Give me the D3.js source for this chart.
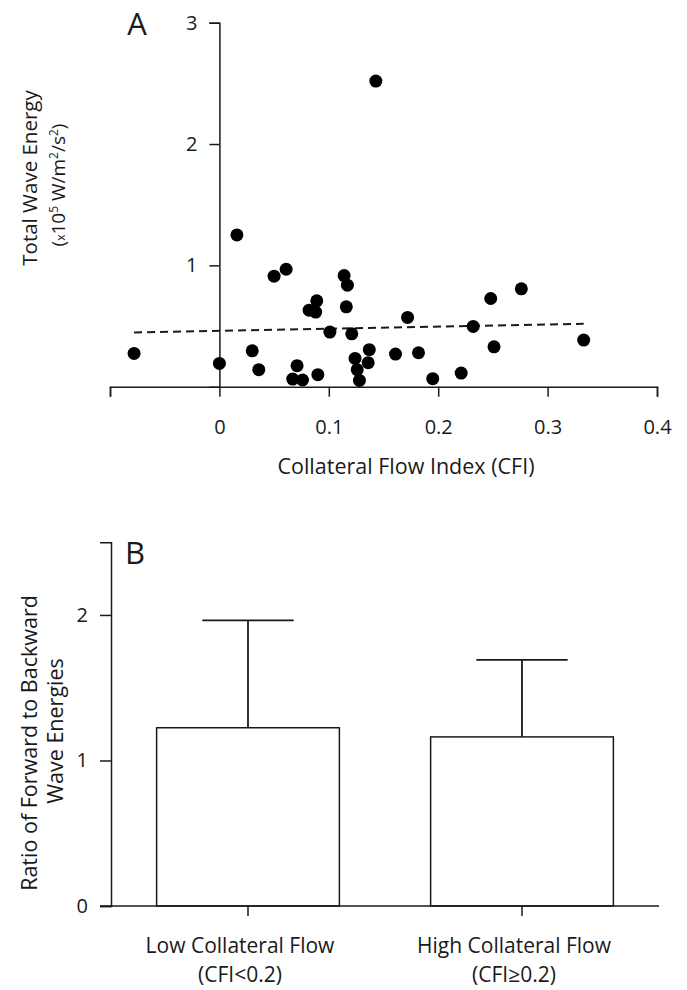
<!DOCTYPE html>
<html>
<head>
<meta charset="utf-8">
<script src="https://cdn.jsdelivr.net/npm/d3@7"></script>
<style>
  html, body { margin: 0; padding: 0; background: #fff; }
  svg { display: block; font-family: "Open Sans", "Noto Sans", sans-serif; }
  text { fill: #1a1a1a; }
</style>
</head>
<body>
<svg id="chart" width="687" height="990"></svg>
<script>
// ---------- Panel A data (scatter) ----------
const cfiValues = [-0.078, 0.000, 0.016, 0.030, 0.036, 0.050, 0.061, 0.071, 0.067, 0.076,
                   0.082, 0.088, 0.089, 0.090, 0.101, 0.114, 0.117, 0.116, 0.121, 0.124,
                   0.126, 0.128, 0.137, 0.136, 0.143, 0.161, 0.172, 0.182, 0.195, 0.221,
                   0.232, 0.248, 0.251, 0.276, 0.333];
const waveEnergy = [0.274, 0.192, 1.251, 0.296, 0.140, 0.911, 0.968, 0.173, 0.063, 0.055,
                    0.631, 0.615, 0.708, 0.099, 0.450, 0.916, 0.837, 0.658, 0.436, 0.233,
                    0.140, 0.052, 0.305, 0.198, 2.519, 0.269, 0.571, 0.280, 0.066, 0.112,
                    0.497, 0.727, 0.329, 0.807, 0.384];
const trendX = [-0.078, 0.333];
const trendY = [0.447, 0.519];
const xTicksA = [-0.1, 0, 0.1, 0.2, 0.3, 0.4];
const xTickLabelsA = ["", "0", "0.1", "0.2", "0.3", "0.4"];
const yTicksA = [1, 2, 3];

// ---------- Panel B data (bars) ----------
const groups = ["Low Collateral Flow|(CFI<0.2)", "High Collateral Flow|(CFI\u22650.2)"];
const ratioMeans = [1.225, 1.162];
const ratioUpper = [1.963, 1.691];
const yTicksB = [0, 1, 2];

const svg = d3.select("#chart");
const ink = "#1a1a1a";
const FONT = "Open Sans";

function styleAxis(g) {
  g.select(".domain").attr("stroke", ink).attr("stroke-width", 1.5);
  g.selectAll(".tick line").attr("stroke", ink).attr("stroke-width", 1.5);
  g.selectAll(".tick text").attr("font-size", 20).attr("font-family", FONT).attr("fill", ink);
}

// ================= Panel A =================
const xA = d3.scaleLinear().domain([-0.1, 0.4]).range([110, 657]);
const yA = d3.scaleLinear().domain([0, 3]).range([386.7, 22.7]);

const gA = svg.append("g");

// x axis
const xAxisA = d3.axisBottom(xA).tickValues(xTicksA)
  .tickFormat((d, i) => xTickLabelsA[i]).tickSizeOuter(0).tickSize(10).tickPadding(23);
const gxA = gA.append("g").attr("transform", `translate(0,${yA(0)})`).call(xAxisA);
styleAxis(gxA);

// y axis
const yAxisA = d3.axisLeft(yA).tickValues(yTicksA).tickFormat(d3.format("d"))
  .tickSizeOuter(0).tickSize(10).tickPadding(12);
const gyA = gA.append("g").attr("transform", `translate(${xA(0)},0)`).call(yAxisA);
styleAxis(gyA);

// trend line
gA.append("path")
  .datum(trendX.map((x, i) => [x, trendY[i]]))
  .attr("fill", "none").attr("stroke", ink).attr("stroke-width", 2)
  .attr("stroke-dasharray", "8,5")
  .attr("d", d3.line().x(d => xA(d[0])).y(d => yA(d[1])));

// dots
gA.selectAll("circle.dot")
  .data(cfiValues.map((x, i) => [x, waveEnergy[i]]))
  .join("circle").attr("class", "dot")
  .attr("cx", d => xA(d[0])).attr("cy", d => yA(d[1]))
  .attr("r", 6.5).attr("fill", "#000");

// panel letter
gA.append("text").attr("x", 137).attr("y", 35).attr("text-anchor", "middle")
  .attr("font-size", 31).text("A");

// x title
gA.append("text").attr("x", 406).attr("y", 474).attr("text-anchor", "middle")
  .attr("font-size", 21.5).text("Collateral Flow Index (CFI)");

// y title
gA.append("text").attr("transform", "translate(37,178) rotate(-90)")
  .attr("text-anchor", "middle").attr("font-size", 20.5).text("Total Wave Energy");
const l2 = gA.append("text").attr("transform", "translate(65,185) rotate(-90)")
  .attr("text-anchor", "middle").attr("font-size", 19);
l2.append("tspan").text("(");
l2.append("tspan").attr("font-size", 12).text("x");
l2.append("tspan").text("10");
l2.append("tspan").attr("font-size", 12).attr("dy", -7).text("5");
l2.append("tspan").attr("dy", 7).text(" W/m");
l2.append("tspan").attr("font-size", 12).attr("dy", -7).text("2");
l2.append("tspan").attr("dy", 7).text("/s");
l2.append("tspan").attr("font-size", 12).attr("dy", -7).text("2");
l2.append("tspan").attr("dy", 7).text(")");

// ================= Panel B =================
const xB = d3.scaleBand().domain(groups).range([111, 659]).padding(0);
const yB = d3.scaleLinear().domain([0, 2.5]).range([906, 542.2]);
const barW = xB.bandwidth() * 0.667;

const gB = svg.append("g");

// bars
gB.selectAll("rect.bar").data(groups).join("rect").attr("class", "bar")
  .attr("x", d => xB(d) + xB.bandwidth() / 2 - barW / 2)
  .attr("y", (d, i) => yB(ratioMeans[i]))
  .attr("width", barW)
  .attr("height", (d, i) => yB(0) - yB(ratioMeans[i]))
  .attr("fill", "#fff").attr("stroke", ink).attr("stroke-width", 1.5);

// error bars
groups.forEach((g, i) => {
  const cx = xB(g) + xB.bandwidth() / 2;
  gB.append("line").attr("x1", cx).attr("x2", cx)
    .attr("y1", yB(ratioMeans[i])).attr("y2", yB(ratioUpper[i]))
    .attr("stroke", ink).attr("stroke-width", 1.8);
  gB.append("line").attr("x1", cx - barW / 4).attr("x2", cx + barW / 4)
    .attr("y1", yB(ratioUpper[i])).attr("y2", yB(ratioUpper[i]))
    .attr("stroke", ink).attr("stroke-width", 1.8);
});

// y axis
const yAxisB = d3.axisLeft(yB).tickValues(yTicksB).tickFormat(d3.format("d"))
  .tickSizeOuter(0).tickSize(11).tickPadding(12);
const gyB = gB.append("g").attr("transform", `translate(111,0)`).call(yAxisB);
styleAxis(gyB);

// x axis
const xAxisB = d3.axisBottom(xB).tickSizeOuter(0).tickSize(10).tickFormat("");
const gxB = gB.append("g").attr("transform", `translate(0,${yB(0)})`).call(xAxisB);
styleAxis(gxB);
gxB.select(".domain").attr("d", `M100,0H659`);

// category labels
groups.forEach(g => {
  const cx = xB(g) + xB.bandwidth() / 2 - 8;
  const parts = g.split("|");
  gB.append("text").attr("x", cx).attr("y", 953).attr("text-anchor", "middle")
    .attr("font-size", 21).text(parts[0]);
  gB.append("text").attr("x", cx).attr("y", 982).attr("text-anchor", "middle")
    .attr("font-size", 21).text(parts[1]);
});

// panel letter
gB.append("text").attr("x", 135).attr("y", 564).attr("text-anchor", "middle")
  .attr("font-size", 31).text("B");

// y title
gB.append("text").attr("transform", "translate(37,743) rotate(-90)")
  .attr("text-anchor", "middle").attr("font-size", 21.5).text("Ratio of Forward to Backward");
gB.append("text").attr("transform", "translate(63,731) rotate(-90)")
  .attr("text-anchor", "middle").attr("font-size", 21.5).text("Wave Energies");
</script>
</body>
</html>
